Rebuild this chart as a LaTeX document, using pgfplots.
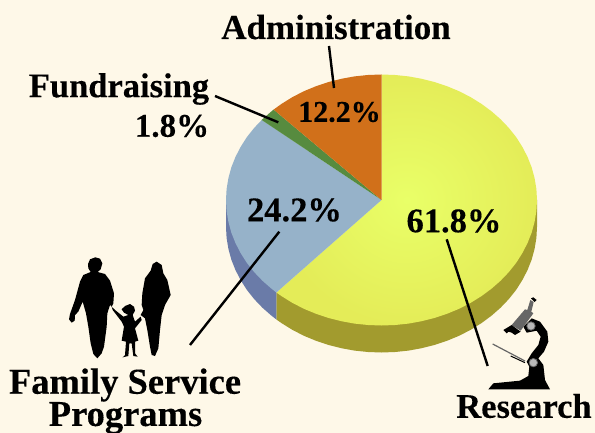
\documentclass[border=0pt]{standalone}
\usepackage{pgfplots}
\pgfplotsset{compat=1.18}
\usepackage{fontspec}
\setmainfont{Liberation Serif}[BoldFeatures={FakeBold=0.25}]
\definecolor{bg}{HTML}{FEF8E8}
\definecolor{ycen}{HTML}{E9FF68}
\definecolor{yrim}{HTML}{E4EC58}
\definecolor{yside}{HTML}{A29B2E}
\definecolor{btop}{HTML}{96B2C9}
\definecolor{bside}{HTML}{6A7BA8}
\definecolor{otop}{HTML}{D1701A}
\definecolor{gtop}{HTML}{578B3F}
\definecolor{micgrey}{HTML}{666666}
\definecolor{knob}{HTML}{B8B8B8}
\tikzset{lab/.style={font=\bfseries\fontsize{34.5}{36}\selectfont,inner sep=0pt,text=black,anchor=center},
  lead/.style={black,line width=2.4pt}}
\begin{document}
\begin{tikzpicture}
\path[clip,use as bounding box] (0,0) rectangle (595pt,433pt);
\begin{axis}[at={(0,0)},anchor=south west,
  width=595pt,height=433pt,scale only axis,
  xmin=0,xmax=595,ymin=0,ymax=433,y dir=reverse,hide axis,
  clip=false,
  fam/.style={x filter/.expression={60+x/3},y filter/.expression={250+y/3},fill=black,draw=none,mark=none,line join=round},
  mic/.style={x filter/.expression={470+x/3},y filter/.expression={290+y/3},mark=none,line join=round}]
% background
\addplot[fill=bg,draw=none,mark=none] coordinates {(0,0)(595,0)(595,433)(0,433)(0,0)};
% side walls
\addplot[fill=yside,draw=none,mark=none] coordinates {
(537,200)(537,227)(536.4,237.9)(534.6,248.8)(531.7,259.5)(527.6,269.9)(522.4,280)(516.2,289.8)(508.9,299)(500.6,307.7)(491.5,315.7)(481.5,323.1)(470.7,329.8)(459.3,335.7)(447.2,340.7)(434.7,344.9)(421.7,348.2)(408.5,350.6)(395.1,352)(381.5,352.5)(367.9,352)(354.5,350.6)(341.3,348.2)(328.3,344.9)(315.8,340.7)(303.7,335.7)(292.3,329.8)(281.5,323.1)(276.4,319.5)(276.4,292.5)(537,200)};
\addplot[fill=bside,draw=none,mark=none] coordinates {
(276.4,319.5)(271.5,315.7)(262.4,307.7)(254.1,299)(246.8,289.8)(240.6,280)(235.4,269.9)(231.3,259.5)(228.4,248.8)(226.6,237.9)(226,227)(226,200)(276.4,292.5)(276.4,319.5)};
% top faces: Research 61.8
\addplot[shade,shading=radial,inner color=ycen,outer color=yrim,draw=none,mark=none] coordinates {
(381.5,200)(381.5,74.5)(395.1,75.0)(408.5,76.4)(421.7,78.8)(434.7,82.1)(447.2,86.3)(459.3,91.3)(470.7,97.2)(481.5,103.9)(491.5,111.3)(500.6,119.3)(508.9,128.0)(516.2,137.2)(522.4,147.0)(527.6,157.1)(531.7,167.5)(534.6,178.2)(536.4,189.1)(537.0,200)(536.4,210.9)(534.6,221.8)(531.7,232.5)(527.6,242.9)(522.4,253.0)(516.2,262.8)(508.9,272.0)(500.6,280.7)(491.5,288.7)(481.5,296.1)(470.7,302.8)(459.3,308.7)(447.2,313.7)(434.7,317.9)(421.7,321.2)(408.5,323.6)(395.1,325.0)(381.5,325.5)(367.9,325.0)(354.5,323.6)(341.3,321.2)(328.3,317.9)(315.8,313.7)(303.7,308.7)(292.3,302.8)(281.5,296.1)(276.4,292.5)(381.5,200)};
% Family Service Programs 24.2
\addplot[fill=btop,draw=none,mark=none] coordinates {
(381.5,200)(276.4,292.5)(271.5,288.7)(262.4,280.7)(254.1,272.0)(246.8,262.8)(240.6,253.0)(235.4,242.9)(231.3,232.5)(228.4,221.8)(226.6,210.9)(226.0,200)(226.6,189.1)(228.4,178.2)(231.3,167.5)(235.4,157.1)(240.6,147.0)(246.8,137.2)(254.1,128.0)(261.7,120)(381.5,200)};
% Fundraising 1.8
\addplot[fill=gtop,draw=none,mark=none] coordinates {
(381.5,200)(261.7,120)(262.4,119.3)(271.5,111.3)(273.6,109.6)(381.5,200)};
% Administration 12.2
\addplot[fill=otop,draw=none,mark=none] coordinates {
(381.5,200)(273.6,109.6)(281.5,103.9)(292.3,97.2)(303.7,91.3)(315.8,86.3)(328.3,82.1)(341.3,78.8)(354.5,76.4)(367.9,75.0)(381.5,74.5)(381.5,200)};
% leaders
\addplot[lead,mark=none] coordinates {(329,46)(334,88)};
\addplot[lead,mark=none] coordinates {(215,96)(278.3,122.3)};
\addplot[lead,mark=none] coordinates {(279.3,231.7)(190,345)};
\addplot[lead,mark=none] coordinates {(446.7,239.3)(487.7,366)};
% family
\addplot[fam] coordinates {(84,42)(90,28)(106,22)(120,26)(127,40)(122,58)(113,66)(135,72)(150,92)(162,130)(160,160)(155,170)(150,165)(142,190)(140,230)(132,290)(125,310)(112,325)(100,312)(92,280)(85,230)(78,190)(68,155)(55,185)(45,195)(44,212)(35,218)(27,208)(30,192)(45,150)(60,95)(70,75)(92,66)(85,55)(84,42)};
\addplot[fam] coordinates {(290,35)(278,42)(272,62)(255,85)(247,130)(245,165)(250,180)(242,195)(255,205)(262,240)(270,290)(275,315)(285,318)(295,295)(300,240)(305,195)(315,165)(332,135)(322,90)(310,70)(305,45)(290,35)};
\addplot[fam] coordinates {(185,178)(195,168)(210,162)(222,170)(225,182)(218,195)(225,215)(242,200)(245,210)(225,235)(235,272)(225,275)(225,310)(233,320)(220,318)(215,280)(208,280)(205,318)(188,322)(195,315)(198,275)(185,272)(192,230)(185,215)(158,180)(155,170)(165,180)(190,200)(205,195)(192,188)(185,178)};
% microscope
\addplot[mic,fill=black,draw=none] coordinates {(55,298)(70,280)(150,272)(175,258)(178,230)(170,215)(185,190)(205,165)(212,140)(200,122)(170,128)(160,110)(185,85)(210,95)(232,125)(235,155)(222,185)(205,205)(220,225)(225,270)(240,298)(55,298)};
\addplot[mic,fill=micgrey,draw=none] coordinates {(125,105)(165,58)(172,60)(181,30)(191,36)(184,65)(190,70)(152,122)(125,105)};
\addplot[mic,fill=black,draw=none] coordinates {(183,25)(190,22)(200,30)(194,36)(183,25)};
\addplot[mic,fill=black,draw=none] coordinates {(100,120)(125,105)(152,125)(135,135)(125,128)(115,125)(110,130)(100,120)};
\addplot[mic,draw=micgrey,line width=1.2pt] coordinates {(68,162)(165,213)};
\addplot[mic,draw=black,line width=1pt] coordinates {(122,198)(165,218)};
\addplot[mic,only marks,mark=*,mark size=4.2pt,mark options={fill=knob,draw=micgrey,line width=0.8pt}] coordinates {(183,108)(190,218)};
% labels
\node[lab,font=\bfseries\fontsize{35}{36}\selectfont] at (axis cs:336,27) {Administration};
\node[lab] at (axis cs:119,89) {Fundraising};
\node[lab,font=\bfseries\fontsize{33}{36}\selectfont] at (axis cs:172,126) {1.8\%};
\node[lab,font=\bfseries\fontsize{30}{32}\selectfont] at (axis cs:339.5,112) {12.2\%};
\node[lab] at (axis cs:294.5,210) {24.2\%};
\node[lab] at (axis cs:454,221) {61.8\%};
\node[lab,font=\bfseries\fontsize{36.5}{38}\selectfont] at (axis cs:125,385) {Family Service};
\node[lab,font=\bfseries\fontsize{36.5}{38}\selectfont] at (axis cs:125.5,418) {Programs};
\node[lab] at (axis cs:524,406) {Research};
\end{axis}
\end{tikzpicture}
\end{document}
